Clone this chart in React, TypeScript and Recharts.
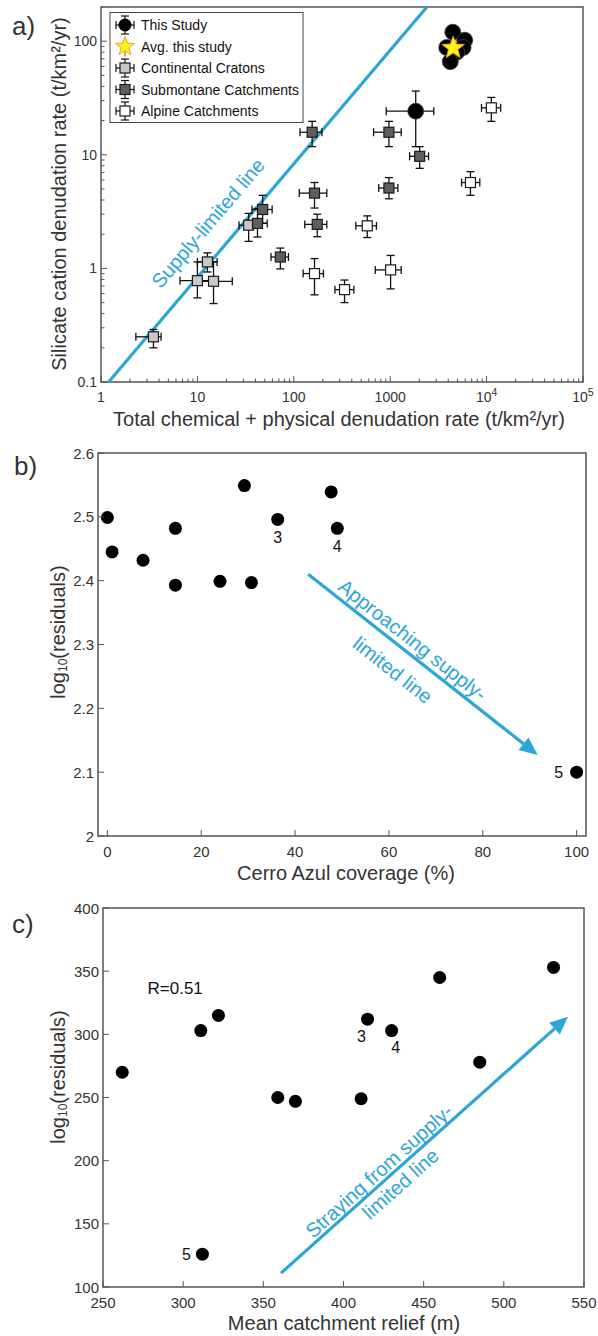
import React from "react";
import {
  ErrorBar,
  ReferenceArea,
  ReferenceDot,
  ReferenceLine,
  Scatter,
  ScatterChart,
  XAxis,
  YAxis,
} from "recharts";

const FONT = "'Liberation Sans', Arial, Helvetica, sans-serif";
const TEXT = "#333333";
const AXIS = "#555555";
const BLUE = "#2ea6d5";
const EDGE = "#1a1a1a";

// ---- a) denudation rates, t/km²/yr (x = total, y = silicate cation) ----
type Pt = { x: number; y: number; xlo: number; xhi: number; ylo: number; yhi: number };

const cratons: Pt[] = [
  { x: 3.5, y: 0.25, xlo: 2.3, xhi: 4.2, ylo: 0.2, yhi: 0.29 },
  { x: 10, y: 0.78, xlo: 6.6, xhi: 14.3, ylo: 0.55, yhi: 1.14 },
  { x: 12.7, y: 1.14, xlo: 10, xhi: 16, ylo: 0.93, yhi: 1.37 },
  { x: 14.7, y: 0.77, xlo: 10, xhi: 23, ylo: 0.49, yhi: 1.14 },
  { x: 34, y: 2.4, xlo: 27, xhi: 42, ylo: 1.73, yhi: 3.05 },
];

const submontane: Pt[] = [
  { x: 155, y: 15.8, xlo: 116, xhi: 196, ylo: 11.8, yhi: 19.7 },
  { x: 970, y: 15.8, xlo: 672, xhi: 1300, ylo: 11.8, yhi: 19.7 },
  { x: 2020, y: 9.7, xlo: 1590, xhi: 2500, ylo: 7.6, yhi: 11.8 },
  { x: 164, y: 4.6, xlo: 114, xhi: 220, ylo: 3.4, yhi: 5.7 },
  { x: 970, y: 5.1, xlo: 760, xhi: 1200, ylo: 4.1, yhi: 6.3 },
  { x: 175, y: 2.44, xlo: 130, xhi: 220, ylo: 1.9, yhi: 3.0 },
  { x: 47.5, y: 3.3, xlo: 36.8, xhi: 59.6, ylo: 2.5, yhi: 4.4 },
  { x: 42, y: 2.49, xlo: 33, xhi: 53, ylo: 1.89, yhi: 3.37 },
  { x: 72.5, y: 1.26, xlo: 58, xhi: 88, ylo: 0.99, yhi: 1.51 },
];

const alpine: Pt[] = [
  { x: 11200, y: 25.9, xlo: 8850, xhi: 14000, ylo: 19.7, yhi: 32 },
  { x: 6800, y: 5.7, xlo: 5500, xhi: 8500, ylo: 4.4, yhi: 7.1 },
  { x: 578, y: 2.37, xlo: 440, xhi: 720, ylo: 1.87, yhi: 2.9 },
  { x: 164, y: 0.9, xlo: 125, xhi: 203, ylo: 0.585, yhi: 1.22 },
  { x: 336, y: 0.65, xlo: 267, xhi: 420, ylo: 0.5, yhi: 0.79 },
  { x: 1010, y: 0.97, xlo: 700, xhi: 1300, ylo: 0.66, yhi: 1.3 },
];

const thisStudyWide: Pt[] = [{ x: 1840, y: 24.2, xlo: 910, xhi: 2830, ylo: 11.8, yhi: 36.4 }];
const thisStudyCluster = [
  { x: 4460, y: 120 },
  { x: 5930, y: 102 },
  { x: 5700, y: 88 },
  { x: 3860, y: 88 },
  { x: 4900, y: 80 },
  { x: 4200, y: 66 },
];
const avgThisStudy: Pt[] = [{ x: 4500, y: 87, xlo: 3600, xhi: 5500, ylo: 68, yhi: 108 }];

// supply-limited line (y = x / 12)
const supplyLine = [
  { x: 1.2, y: 0.1 },
  { x: 2400, y: 200 },
];

const aXMajor = [1, 10, 100, 1000, 10000, 100000];
const aXLabels = ["1", "10", "100", "1000", "10^4", "10^5"];
const aYMajor = [0.1, 1, 10, 100];
const aYLabels = ["0.1", "1", "10", "100"];

// ---- b) log10(residuals) vs Cerro Azul coverage (%) ----
const coverage = [0, 1, 7.6, 14.5, 14.5, 24, 29.2, 30.7, 36.3, 47.7, 49, 100];
const residualsB = [2.499, 2.445, 2.432, 2.482, 2.393, 2.399, 2.549, 2.397, 2.496, 2.539, 2.482, 2.1];
const tagsB = ["", "", "", "", "", "", "", "", "3", "", "4", "5"];
const bXTicks = [0, 20, 40, 60, 80, 100];
const bXLabels = ["0", "20", "40", "60", "80", "100"];
const bYTicks = [2, 2.1, 2.2, 2.3, 2.4, 2.5, 2.6];
const bYLabels = ["2", "2.1", "2.2", "2.3", "2.4", "2.5", "2.6"];
const bArrow = [
  { x: 42.8, y: 2.41 },
  { x: 91.7, y: 2.127 },
];

// ---- c) log10(residuals) vs mean catchment relief (m) ----
const relief = [262, 311, 322, 415, 430, 460, 531, 485, 359, 370, 411, 312];
const residualsC = [270, 303, 315, 312, 303, 345, 353, 278, 250, 247, 249, 126];
const tagsC = ["", "", "", "3", "4", "", "", "", "", "", "", "5"];
const cXTicks = [250, 300, 350, 400, 450, 500, 550];
const cXLabels = ["250", "300", "350", "400", "450", "500", "550"];
const cYTicks = [100, 150, 200, 250, 300, 350, 400];
const cYLabels = ["100", "150", "200", "250", "300", "350", "400"];
const cArrow = [
  { x: 361, y: 111 },
  { x: 540, y: 314 },
];
const rNote = { x: 295, y: 336, text: "R=0.51" };

// ---------------- helpers ----------------
const withErrors = (pts: Pt[]) =>
  pts.map((p) => ({ ...p, ex: [p.x - p.xlo, p.xhi - p.x], ey: [p.y - p.ylo, p.yhi - p.y] }));

const logTicks = (majors: number[], max: number) => {
  const out: number[] = [];
  majors.forEach((m) => {
    for (let k = 1; k <= 9; k++) if (m * k <= max * 1.0001) out.push(m * k);
  });
  return out;
};

const findMajor = (majors: number[], v: number) =>
  majors.findIndex((m) => Math.abs(m - v) < 1e-6 * Math.max(1, Math.abs(m)));

function powLabel(label: string, fs: number) {
  if (!label.includes("^")) return label;
  const [b, e] = label.split("^");
  return (
    <>
      {b}
      <tspan dy={-fs * 0.45} fontSize={fs * 0.75}>
        {e}
      </tspan>
    </>
  );
}

function makeXTick(majors: number[], labels: string[], fs: number) {
  return (props: any) => {
    const { x, y, payload } = props;
    const i = findMajor(majors, payload.value);
    return (
      <g>
        <line x1={x} x2={x} y1={y} y2={y - (i >= 0 ? 6 : 3.5)} stroke={AXIS} strokeWidth={1} />
        {i >= 0 && (
          <text x={x} y={y + fs + 6} textAnchor="middle" fontSize={fs} fill={TEXT} fontFamily={FONT}>
            {powLabel(labels[i], fs)}
          </text>
        )}
      </g>
    );
  };
}

function makeYTick(majors: number[], labels: string[], fs: number) {
  return (props: any) => {
    const { x, y, payload } = props;
    const i = findMajor(majors, payload.value);
    return (
      <g>
        <line x1={x} x2={x + (i >= 0 ? 6 : 3.5)} y1={y} y2={y} stroke={AXIS} strokeWidth={1} />
        {i >= 0 && (
          <text
            x={x - 4}
            y={y}
            textAnchor="end"
            dominantBaseline="central"
            fontSize={fs}
            fill={TEXT}
            fontFamily={FONT}
          >
            {labels[i]}
          </text>
        )}
      </g>
    );
  };
}

const squareShape = (fill: string) => (p: any) =>
  <rect x={p.cx - 5} y={p.cy - 5} width={10} height={10} fill={fill} stroke={EDGE} strokeWidth={1.2} />;

const noShape = () => <g />;

function starPoints(cx: number, cy: number, R: number, r: number) {
  const pts: string[] = [];
  for (let i = 0; i < 10; i++) {
    const rad = i % 2 ? r : R;
    const a = -Math.PI / 2 + (i * Math.PI) / 5;
    pts.push(`${cx + rad * Math.cos(a)},${cy + rad * Math.sin(a)}`);
  }
  return pts.join(" ");
}

// line (optionally arrow) with text lines placed along it: [text, fraction along, offset above]
function annotatedLine(lines: [string, number, number][], arrow: boolean) {
  return (p: any) => {
    const { x1, y1, x2, y2 } = p;
    const dx = x2 - x1;
    const dy = y2 - y1;
    const len = Math.hypot(dx, dy);
    const ux = dx / len;
    const uy = dy / len;
    const ang = (Math.atan2(dy, dx) * 180) / Math.PI;
    const head = 18;
    const half = 8;
    const ex = arrow ? x2 - ux * head : x2;
    const ey = arrow ? y2 - uy * head : y2;
    return (
      <g>
        <line x1={x1} y1={y1} x2={ex} y2={ey} stroke={BLUE} strokeWidth={3.2} />
        {arrow && (
          <polygon
            points={`${x2},${y2} ${ex - uy * half},${ey + ux * half} ${ex + uy * half},${ey - ux * half}`}
            fill={BLUE}
          />
        )}
        {lines.map(([t, f, off], i) => {
          const px = x1 + dx * f + uy * off;
          const py = y1 + dy * f - ux * off;
          return (
            <text
              key={i}
              x={px}
              y={py}
              transform={`rotate(${ang} ${px} ${py})`}
              textAnchor="middle"
              dominantBaseline="central"
              fontSize={20}
              fill={BLUE}
              fontFamily={FONT}
            >
              {t}
            </text>
          );
        })}
      </g>
    );
  };
}

function dotShape(offsets: Record<string, [number, number]>) {
  return (p: any) => {
    const tag = p.payload?.tag;
    const off = tag ? offsets[tag] : null;
    return (
      <g>
        <circle cx={p.cx} cy={p.cy} r={6.5} fill="#000" />
        {off && (
          <text
            x={p.cx + off[0]}
            y={p.cy + off[1]}
            textAnchor="middle"
            dominantBaseline="central"
            fontSize={16}
            fill="#111"
            fontFamily={FONT}
          >
            {tag}
          </text>
        )}
      </g>
    );
  };
}

const axisCommon = {
  type: "number" as const,
  tickSize: 0,
  tickMargin: 0,
  tickLine: false,
  axisLine: false,
  interval: 0 as const,
  allowDataOverflow: true,
};

// ---------------- panel a ----------------
function PanelA() {
  const aXTicks = logTicks(aXMajor, 1e5);
  const aYTicks = logTicks(aYMajor, 200);
  const errStyle = { width: 4, stroke: "#111", strokeWidth: 1.3 };
  const groups = [
    { rows: withErrors(cratons), fill: "#c8c8c8" },
    { rows: withErrors(submontane), fill: "#5e5e5e" },
    { rows: withErrors(alpine), fill: "#ffffff" },
  ];
  return (
    <ScatterChart width={598} height={440} margin={{ top: 7, right: 15, bottom: 28, left: 61 }}>
      <XAxis
        {...axisCommon}
        dataKey="x"
        scale="log"
        domain={[1, 1e5]}
        ticks={aXTicks}
        tick={makeXTick(aXMajor, aXLabels, 14)}
        height={30}
      />
      <YAxis
        {...axisCommon}
        dataKey="y"
        scale="log"
        domain={[0.1, 200]}
        ticks={aYTicks}
        tick={makeYTick(aYMajor, aYLabels, 14)}
        width={40}
      />
      <ReferenceArea x1={1} x2={1e5} y1={0.1} y2={200} fill="none" stroke={AXIS} strokeWidth={1.5} />
      <ReferenceLine segment={supplyLine} shape={annotatedLine([["Supply-limited line", 0.377, 27]], false)} />
      {groups.map((g, i) => (
        <Scatter key={`e${i}`} data={g.rows} shape={noShape} isAnimationActive={false}>
          <ErrorBar dataKey="ex" direction="x" {...errStyle} />
          <ErrorBar dataKey="ey" direction="y" {...errStyle} />
        </Scatter>
      ))}
      {groups.map((g, i) => (
        <Scatter key={`m${i}`} data={g.rows} shape={squareShape(g.fill)} isAnimationActive={false} />
      ))}
      <Scatter data={withErrors(thisStudyWide)} shape={noShape} isAnimationActive={false}>
        <ErrorBar dataKey="ex" direction="x" {...errStyle} />
        <ErrorBar dataKey="ey" direction="y" {...errStyle} />
      </Scatter>
      <Scatter
        data={[...thisStudyWide, ...thisStudyCluster]}
        shape={(p: any) => <circle cx={p.cx} cy={p.cy} r={8} fill="#000" stroke="#444" strokeWidth={0.8} />}
        isAnimationActive={false}
      />
      <Scatter
        data={withErrors(avgThisStudy)}
        shape={(p: any) => (
          <polygon points={starPoints(p.cx, p.cy, 12, 5)} fill="#fff21a" stroke="#d9902a" strokeWidth={0.8} />
        )}
        isAnimationActive={false}
      >
        <ErrorBar dataKey="ex" direction="x" width={3} stroke="#e07f1f" strokeWidth={1.2} />
        <ErrorBar dataKey="ey" direction="y" width={3} stroke="#e07f1f" strokeWidth={1.2} />
      </Scatter>
    </ScatterChart>
  );
}

// ---------------- panel b ----------------
function PanelB() {
  const rows = coverage.map((x, i) => ({ x, y: residualsB[i], tag: tagsB[i] }));
  return (
    <ScatterChart width={598} height={450} margin={{ top: 13, right: 12, bottom: 24, left: 58 }}>
      <XAxis
        {...axisCommon}
        dataKey="x"
        domain={[-2, 102]}
        ticks={bXTicks}
        tick={makeXTick(bXTicks, bXLabels, 15)}
        height={30}
      />
      <YAxis
        {...axisCommon}
        dataKey="y"
        domain={[2, 2.6]}
        ticks={bYTicks}
        tick={makeYTick(bYTicks, bYLabels, 15)}
        width={40}
      />
      <ReferenceArea x1={-2} x2={102} y1={2} y2={2.6} fill="none" stroke={AXIS} strokeWidth={1.5} />
      <ReferenceLine
        segment={bArrow}
        shape={annotatedLine(
          [
            ["Approaching supply-", 0.42, 13],
            ["limited line", 0.43, -23],
          ],
          true
        )}
      />
      <Scatter
        data={rows}
        shape={dotShape({ "3": [0, 18], "4": [0, 18], "5": [-18, 0] })}
        isAnimationActive={false}
      />
    </ScatterChart>
  );
}

// ---------------- panel c ----------------
function PanelC() {
  const rows = relief.map((x, i) => ({ x, y: residualsC[i], tag: tagsC[i] }));
  return (
    <ScatterChart width={598} height={446} margin={{ top: 18, right: 14, bottom: 19, left: 63 }}>
      <XAxis
        {...axisCommon}
        dataKey="x"
        domain={[250, 550]}
        ticks={cXTicks}
        tick={makeXTick(cXTicks, cXLabels, 15)}
        height={30}
      />
      <YAxis
        {...axisCommon}
        dataKey="y"
        domain={[100, 400]}
        ticks={cYTicks}
        tick={makeYTick(cYTicks, cYLabels, 15)}
        width={40}
      />
      <ReferenceArea x1={250} x2={550} y1={100} y2={400} fill="none" stroke={AXIS} strokeWidth={1.5} />
      <ReferenceDot
        x={rNote.x}
        y={rNote.y}
        shape={(p: any) => (
          <text x={p.cx} y={p.cy} textAnchor="middle" dominantBaseline="central" fontSize={17} fill="#111" fontFamily={FONT}>
            {rNote.text}
          </text>
        )}
      />
      <ReferenceLine
        segment={cArrow}
        shape={annotatedLine(
          [
            ["Straying from supply-", 0.367, 11],
            ["limited line", 0.386, -13],
          ],
          true
        )}
      />
      <Scatter
        data={rows}
        shape={dotShape({ "3": [-6, 17], "4": [4, 17], "5": [-16, 0] })}
        isAnimationActive={false}
      />
    </ScatterChart>
  );
}

// ---------------- legend, titles ----------------
const legendItems = [
  { name: "This Study", kind: "circle", fill: "#000", bar: "#111" },
  { name: "Avg. this study", kind: "star", fill: "#fff21a", bar: "#e07f1f" },
  { name: "Continental Cratons", kind: "square", fill: "#c8c8c8", bar: "#111" },
  { name: "Submontane Catchments", kind: "square", fill: "#5e5e5e", bar: "#111" },
  { name: "Alpine Catchments", kind: "square", fill: "#ffffff", bar: "#111" },
];

function LegendA() {
  const x0 = 110;
  const y0 = 12.5;
  return (
    <g>
      <rect x={x0} y={y0} width={193} height={110} fill="#fff" stroke="#444" strokeWidth={1} />
      {legendItems.map((it, i) => {
        const cy = y0 + 12.5 + i * 21.5;
        const cx = x0 + 15;
        return (
          <g key={it.name}>
            {it.kind !== "star" && (
              <g stroke={it.bar} strokeWidth={1.2}>
                <line x1={cx - 9} x2={cx + 9} y1={cy} y2={cy} />
                <line x1={cx - 9} x2={cx - 9} y1={cy - 4} y2={cy + 4} />
                <line x1={cx + 9} x2={cx + 9} y1={cy - 4} y2={cy + 4} />
                <line x1={cx} x2={cx} y1={cy - 9} y2={cy + 9} />
                <line x1={cx - 4} x2={cx + 4} y1={cy - 9} y2={cy - 9} />
                <line x1={cx - 4} x2={cx + 4} y1={cy + 9} y2={cy + 9} />
              </g>
            )}
            {it.kind === "star" && (
              <line x1={cx} x2={cx} y1={cy} y2={cy + 10} stroke={it.bar} strokeWidth={1.5} />
            )}
            {it.kind === "circle" && <circle cx={cx} cy={cy} r={6.5} fill={it.fill} />}
            {it.kind === "square" && (
              <rect x={cx - 5} y={cy - 5} width={10} height={10} fill={it.fill} stroke={EDGE} strokeWidth={1.2} />
            )}
            {it.kind === "star" && (
              <polygon points={starPoints(cx, cy, 10, 4.2)} fill={it.fill} stroke="#d9902a" strokeWidth={0.8} />
            )}
            <text x={x0 + 31} y={cy} dominantBaseline="central" fontSize={14} fill="#111">
              {it.name}
            </text>
          </g>
        );
      })}
    </g>
  );
}

function LogResidualTitle({ cx, cy }: { cx: number; cy: number }) {
  return (
    <text transform={`translate(${cx},${cy}) rotate(-90)`} textAnchor="middle" dominantBaseline="central" fontSize={20} fill={TEXT}>
      log
      <tspan fontSize={12} dy={5}>
        10
      </tspan>
      <tspan dy={-5}>(residuals)</tspan>
    </text>
  );
}

function Overlay() {
  return (
    <svg
      width={598}
      height={1336}
      style={{ position: "absolute", left: 0, top: 0, pointerEvents: "none" }}
      fontFamily={FONT}
    >
      <text x={12} y={35} fontSize={26} fill={TEXT}>
        a)
      </text>
      <text x={14} y={475} fontSize={26} fill={TEXT}>
        b)
      </text>
      <text x={12} y={933} fontSize={26} fill={TEXT}>
        c)
      </text>
      <text x={339} y={426} textAnchor="middle" fontSize={20} fill={TEXT}>
        Total chemical + physical denudation rate (t/km²/yr)
      </text>
      <text
        transform="translate(59,194) rotate(-90)"
        textAnchor="middle"
        dominantBaseline="central"
        fontSize={20}
        fill={TEXT}
      >
        Silicate cation denudation rate (t/km²/yr)
      </text>
      <text x={346} y={880} textAnchor="middle" fontSize={20} fill={TEXT}>
        Cerro Azul coverage (%)
      </text>
      <LogResidualTitle cx={58} cy={632} />
      <text x={344} y={1330} textAnchor="middle" fontSize={20} fill={TEXT}>
        Mean catchment relief (m)
      </text>
      <LogResidualTitle cx={58} cy={1077} />
      <LegendA />
    </svg>
  );
}

export default function App() {
  return (
    <div style={{ position: "absolute", left: 0, top: 0, width: 598, height: 1336, background: "#fff" }}>
      <div style={{ position: "absolute", left: 0, top: 0 }}>
        <PanelA />
      </div>
      <div style={{ position: "absolute", left: 0, top: 440 }}>
        <PanelB />
      </div>
      <div style={{ position: "absolute", left: 0, top: 890 }}>
        <PanelC />
      </div>
      <Overlay />
    </div>
  );
}
